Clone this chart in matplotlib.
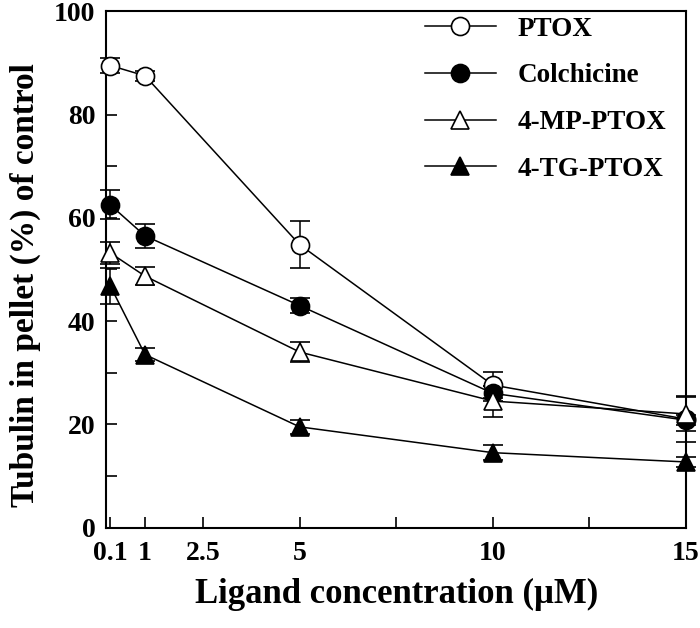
import matplotlib
matplotlib.use("Agg")
import matplotlib.pyplot as plt
from matplotlib.lines import Line2D

plt.rcParams['font.family'] = ['Liberation Serif', 'DejaVu Serif']
plt.rcParams['font.weight'] = 'bold'

conc = [0.1, 1, 5, 10, 15]

ptox = [89.5, 87.5, 54.8, 27.6, 21.0]
ptox_err = [1.5, 1.0, 4.5, 2.6, 4.5]
colch = [62.5, 56.5, 43.0, 26.0, 20.8]
colch_err = [2.8, 2.3, 1.5, 1.5, 1.0]
mp_ptox = [53.2, 48.7, 34.0, 24.5, 22.0]
mp_err = [2.2, 1.8, 2.0, 3.0, 3.3]
tg_ptox = [46.8, 33.5, 19.5, 14.5, 12.7]
tg_err = [3.5, 1.3, 1.3, 1.5, 1.0]

xtick_pos = [0.1, 1, 2.5, 5, 7.5, 10, 12.5, 15]
xtick_lab = ['0.1', '1', '2.5', '5', '', '10', '', '15']

fig = plt.figure(figsize=(7, 6.28), dpi=100)
ax = fig.add_axes([0.152, 0.16, 0.828, 0.822])

series = [
    ('PTOX', ptox, ptox_err, 'o', 'white'),
    ('Colchicine', colch, colch_err, 'o', 'black'),
    ('4-MP-PTOX', mp_ptox, mp_err, '^', 'white'),
    ('4-TG-PTOX', tg_ptox, tg_err, '^', 'black'),
]
handles = []
for name, y, e, m, fc in series:
    ax.errorbar(conc, y, yerr=e, marker=m, markersize=13, mfc=fc, mec='black',
                mew=1.2, color='black', lw=1.1, capsize=7, elinewidth=1.1,
                capthick=1.1, clip_on=False, zorder=3)
    handles.append(Line2D([], [], marker=m, markersize=13, mfc=fc, mec='black',
                          mew=1.2, color='black', lw=1.1, label=name))

ax.set_xlim(0, 15)
ax.set_ylim(0, 100)
ax.set_xticks(xtick_pos)
ax.set_xticklabels(xtick_lab)
ax.set_yticks(range(0, 101, 20))
ax.set_yticks(range(10, 100, 20), minor=True)
ax.tick_params(direction='in', length=8, width=1.2, labelsize=20)
ax.tick_params(axis='x', pad=10)
ax.tick_params(axis='y', which='minor', direction='in', length=8, width=1.2)
ax.tick_params(axis='y', pad=8)
for s in ax.spines.values():
    s.set_linewidth(1.5)

ax.set_xlabel('Ligand concentration (μM)', fontsize=25, fontweight='bold', labelpad=8)
ax.set_ylabel('Tubulin in pellet (%) of control', fontsize=24, fontweight='bold')
ax.yaxis.set_label_coords(-0.112, 0.47)

ax.legend(handles=handles, loc='upper right', bbox_to_anchor=(0.975, 1.0),
          frameon=False, fontsize=19.5, labelspacing=0.8, handlelength=2.6,
          borderpad=0.1, borderaxespad=0.1, handletextpad=0.8)

fig.savefig('out.png', dpi=100)
